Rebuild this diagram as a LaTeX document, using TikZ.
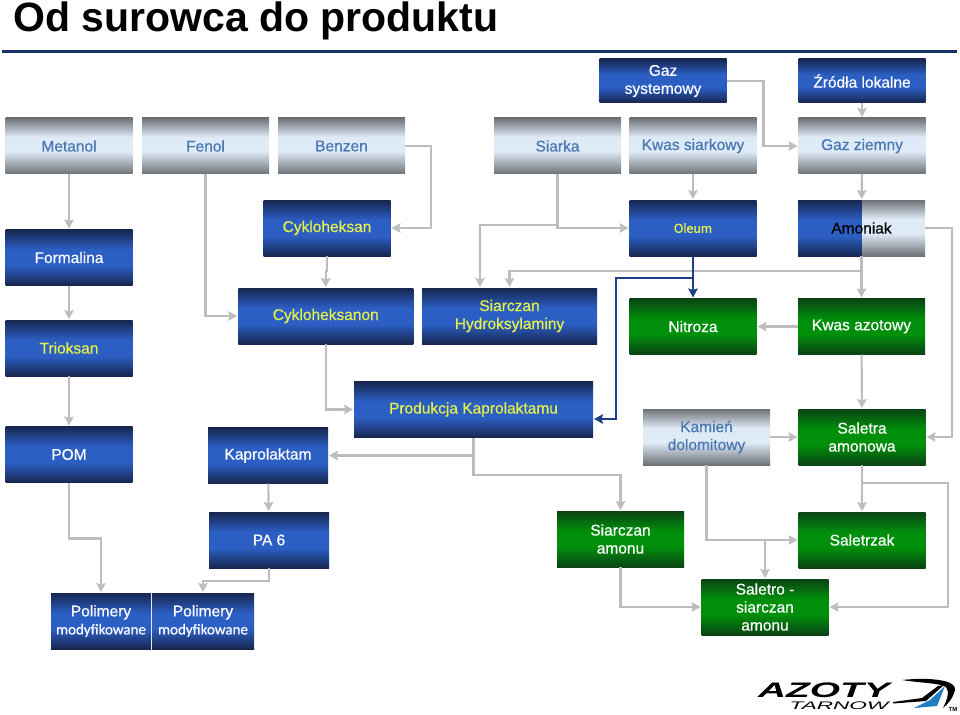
\documentclass[tikz,border=0pt]{standalone}
\usepackage{fontspec}
\setmainfont{Liberation Sans}
\newfontfamily\boxfont[RawFeature={embolden=0.5}]{Liberation Sans}
\newfontfamily\calibrifont[RawFeature={embolden=0.5}]{Carlito}
\usetikzlibrary{arrows.meta}
\definecolor{linegrey}{HTML}{BDBDBD}
\definecolor{linkblue}{HTML}{1F3F85}
\definecolor{rawtext}{HTML}{4A78B2}
\definecolor{yellowtext}{HTML}{E6F04A}
\definecolor{logoblue}{HTML}{1F7FC0}
\definecolor{bdark}{HTML}{17264F}
\definecolor{bmid}{HTML}{2C5FC4}
\definecolor{gdark}{HTML}{0A4314}
\definecolor{gmid}{HTML}{008F0A}
\definecolor{sdark}{HTML}{6D7277}
\definecolor{slight}{HTML}{DEEAF6}
\pgfdeclareverticalshading{bluebar}{100bp}{color(0bp)=(bdark); color(25bp)=(bdark); color(43bp)=(bmid); color(50bp)=(bmid); color(57bp)=(bmid); color(75bp)=(bdark); color(100bp)=(bdark)}
\pgfdeclareverticalshading{greenbar}{100bp}{color(0bp)=(gdark); color(25bp)=(gdark); color(43bp)=(gmid); color(50bp)=(gmid); color(57bp)=(gmid); color(75bp)=(gdark); color(100bp)=(gdark)}
\pgfdeclareverticalshading{greybar}{100bp}{color(0bp)=(sdark); color(25bp)=(sdark); color(45bp)=(slight); color(50bp)=(slight); color(58bp)=(slight); color(75bp)=(sdark); color(100bp)=(sdark)}
\tikzset{
  box/.style={rectangle, inner sep=0pt, outer sep=0pt, minimum width=127pt, minimum height=56pt, align=center, font=\boxfont\fontsize{15.5}{18}\selectfont},
  bluebox/.style={box, shading=bluebar, text=white},
  yellowbox/.style={box, shading=bluebar, text=yellowtext},
  greenbox/.style={box, shading=greenbar, text=white},
  rawbox/.style={box, shading=greybar, text=rawtext},
  link/.style={draw=linegrey, line width=2.1pt, ->, >={Stealth[length=9pt,width=9.5pt,inset=1.5pt]}, shorten >=1pt},
  bluelink/.style={link, draw=linkblue}
}
\begin{document}
\begin{tikzpicture}[x=1pt, y=-1pt]
  \useasboundingbox (0,0) rectangle (960,714);
  \node[font=\fontsize{41}{42}\selectfont\bfseries, anchor=base west, inner sep=0pt] (title) at (13,32) {Od surowca do produktu};
  \fill[linkblue!80!black] (2,50.5) rectangle (957,53.5);

  % surowce
  \node[rawbox] (metanol) at (69,146) {Metanol};
  \node[rawbox] (fenol) at (205.5,146) {Fenol};
  \node[rawbox] (benzen) at (341.5,146) {Benzen};
  \node[rawbox] (siarka) at (557.5,146) {Siarka};
  \node[rawbox] (kwassiark) at (693,146) {Kwas siarkowy};
  \node[rawbox] (gazziemny) at (862,146) {Gaz ziemny};
  \node[bluebox, minimum height=44pt] (gazsys) at (663,81) {Gaz\\systemowy};
  \node[bluebox, minimum height=44pt] (zrodla) at (862,81) {Źródła lokalne};
  \node[rawbox] (kamien) at (706.5,437) {Kamień\\dolomitowy};

  % polprodukty
  \node[bluebox] (formalina) at (69,257.5) {Formalina};
  \node[yellowbox] (trioksan) at (69,348) {Trioksan};
  \node[bluebox] (pom) at (69,454.5) {POM};
  \node[yellowbox] (cykloheksan) at (327,228) {Cykloheksan};
  \node[yellowbox, minimum width=175pt] (cykloheksanon) at (325.75,316) {Cykloheksanon};
  \node[yellowbox, minimum width=175pt] (hydro) at (509.5,316) {Siarczan\\Hydroksylaminy};
  \node[yellowbox, minimum width=239pt] (produkcja) at (473.5,409.5) {Produkcja Kaprolaktamu};
  \node[yellowbox, font=\fontsize{14}{16}\selectfont\calibrifont] (oleum) at (693,228) {Oleum};
  \node[rawbox, text=black, path picture={\shade[shading=bluebar] (path picture bounding box.south west) rectangle (path picture bounding box.north);}] (amoniak) at (861.5,228) {Amoniak};
  \node[bluebox, minimum width=120pt] (kaprolaktam) at (268,455.5) {Kaprolaktam};
  \node[bluebox, minimum width=120pt] (pa) at (269,540) {PA 6};
  \node[bluebox, minimum width=100pt] (polimeryl) at (101,621) {Polimery\\{\calibrifont\fontsize{15}{18}\selectfont modyfikowane}};
  \node[bluebox, minimum width=102pt] (polimeryr) at (203,621) {Polimery\\{\calibrifont\fontsize{15}{18}\selectfont modyfikowane}};

  % nawozy
  \node[greenbox] (nitroza) at (693,326.5) {Nitroza};
  \node[greenbox] (kwasazot) at (861.5,326.5) {Kwas azotowy};
  \node[greenbox] (saletra) at (862,437) {Saletra\\amonowa};
  \node[greenbox] (siarczanam) at (620.5,539) {Siarczan\\amonu};
  \node[greenbox] (saletrzak) at (862,540) {Saletrzak};
  \node[greenbox] (saletro) at (765,607) {Saletro -\\siarczan\\amonu};

  % polaczenia
  \draw[link] (metanol) -- (formalina);
  \draw[link] (formalina) -- (trioksan);
  \draw[link] (trioksan) -- (pom);
  \draw[link] (pom.south) -- ++(0,56) -| (polimeryl.north);
  \draw[link] (kaprolaktam) -- (pa);
  \draw[link] (pa.south) -- ++(0,13) -| (polimeryr.north);
  \draw[link] (fenol.south) |- (cykloheksanon.west);
  \draw[link] (benzen.east) -- ++(26,0) |- (cykloheksan.east);
  \draw[link] (cykloheksan.south) -- ++(0,15) -| (cykloheksanon.north);
  \draw[link] (cykloheksanon.south) |- (produkcja.west);
  \draw[link] (siarka.south) |- (oleum.west);
  \coordinate (siarkafork) at (557.5,225);
  \draw[link] (siarkafork) -| ([xshift=-29.5pt]hydro.north);
  \draw[link] (kwassiark) -- (oleum);
  \draw[link] (zrodla) -- (gazziemny);
  \draw[link] (gazziemny) -- (amoniak);
  \draw[link] (gazsys.east) -- ++(37,0) |- (gazziemny.west);
  \draw[link] (amoniak) -- (kwasazot);
  \coordinate (amoniakfork) at (861.5,271);
  \draw[link] (amoniakfork) -| (hydro.north);
  \draw[link] (kwasazot) -- (nitroza);
  \draw[link] (kwasazot) -- (saletra);
  \draw[link] (amoniak.east) -- ++(27,0) |- (saletra.east);
  \draw[link] (kamien) -- (saletra);
  \draw[link] (kamien.south) |- (saletrzak.west);
  \coordinate (kamienfork) at (saletro.north |- saletrzak.west);
  \draw[link] (kamienfork) -- (saletro);
  \draw[link] (saletra) -- (saletrzak);
  \coordinate (saletrafork) at (862,483);
  \draw[link] (saletrafork) -- ++(86,0) |- (saletro.east);
  \draw[link] (siarczanam.south) |- (saletro.west);
  \draw[link] (produkcja.south) |- (kaprolaktam.east);
  \coordinate (kaprolaktamfork) at (produkcja.south |- kaprolaktam.east);
  \draw[link] (kaprolaktamfork) -- ++(0,19.5) -| (siarczanam.north);
  \draw[bluelink] (oleum) -- (nitroza);
  \coordinate (oleumfork) at (693,278);
  \draw[bluelink] (oleumfork) -- ++(-77,0) |- ([yshift=-9.5pt]produkcja.east);

  % logo
  \node[font=\fontsize{21}{21}\selectfont\bfseries\itshape, xscale=1.85, anchor=base, inner sep=0pt] (azoty) at (824,697.5) {AZOTY};
  \node[font=\fontsize{11}{11}\selectfont\itshape, xscale=2.05, anchor=base, inner sep=0pt] (tarnow) at (839,709) {TARNOW};
  \fill[black] (902,680) .. controls (930,677) and (957,680) .. (955,690) .. controls (953,698) and (948,704) .. (943,708) .. controls (947,700) and (950,692) .. (946,687) .. controls (940,683) and (920,683) .. (902,680) -- cycle;
  \fill[black] (893,702) -- (922,698) -- (938,686) -- (944,685) -- (926,701) -- (893,703.5) -- cycle;
  \fill[logoblue] (945,686) -- (937,706) -- (914,708) -- (930,700) -- cycle;
  \node[font=\fontsize{6}{6}\selectfont\bfseries, anchor=base, inner sep=0pt] (tm) at (953,711) {TM};
\end{tikzpicture}
\end{document}
